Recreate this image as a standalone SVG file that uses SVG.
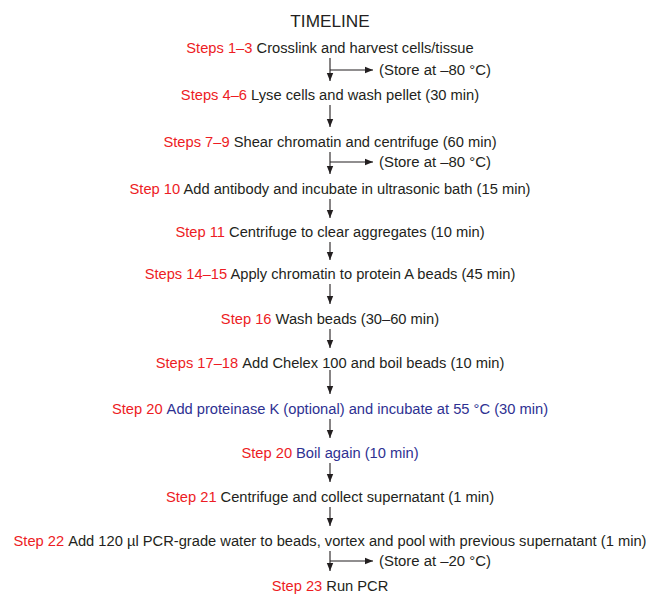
<svg xmlns="http://www.w3.org/2000/svg" width="646" height="594" viewBox="0 0 646 594">
<style>
text{font-family:"Liberation Sans",Arial,sans-serif;font-size:14.7px;fill:#231f20;text-anchor:middle}
.t{font-size:17.2px}
.r{fill:#ed1c24}
.b{fill:#2e3192}
.s{text-anchor:start;font-size:14.9px}
line{stroke:#231f20;stroke-width:1.1}
</style>
<defs>
<marker id="ah" viewBox="0 0 8 8" refX="8" refY="4" markerWidth="8" markerHeight="8" markerUnits="userSpaceOnUse" orient="auto">
<path d="M0,0.8 L8,4 L0,7.2 Z" fill="#231f20"/>
</marker>
</defs>
<rect width="646" height="594" fill="#fff"/>
<text id="title" class="t" x="330" y="27">TIMELINE</text>
<g id="s1"><text x="330" y="53"><tspan class="r">Steps 1–3</tspan> Crosslink and harvest cells/tissue</text></g>
<g id="s4"><text x="330" y="100"><tspan class="r">Steps 4–6</tspan> Lyse cells and wash pellet (30 min)</text></g>
<g id="s7"><text x="330" y="147"><tspan class="r">Steps 7–9</tspan> Shear chromatin and centrifuge (60 min)</text></g>
<g id="s10"><text x="330" y="194"><tspan class="r">Step 10</tspan> Add antibody and incubate in ultrasonic bath (15 min)</text></g>
<g id="s11"><text x="330" y="237"><tspan class="r">Step 11</tspan> Centrifuge to clear aggregates (10 min)</text></g>
<g id="s14"><text x="330" y="279"><tspan class="r">Steps 14–15</tspan> Apply chromatin to protein A beads (45 min)</text></g>
<g id="s16"><text x="330" y="324"><tspan class="r">Step 16</tspan> Wash beads (30–60 min)</text></g>
<g id="s17"><text x="330" y="368"><tspan class="r">Steps 17–18</tspan><tspan dx="4">Add Chelex 100 and boil beads (10 min)</tspan></text></g>
<g id="s20a"><text x="330" y="414"><tspan class="r">Step 20</tspan><tspan class="b" dx="4">Add proteinase K (optional) and incubate at 55 °C (30 min)</tspan></text></g>
<g id="s20b"><text x="330" y="458"><tspan class="r">Step 20</tspan><tspan class="b" dx="4">Boil again (10 min)</tspan></text></g>
<g id="s21"><text x="330" y="502"><tspan class="r">Step 21</tspan><tspan dx="4">Centrifuge and collect supernatant (1 min)</tspan></text></g>
<g id="s22"><text x="330" y="546"><tspan class="r">Step 22</tspan><tspan dx="4">Add 120 µl PCR-grade water to beads, vortex and pool with previous supernatant (1 min)</tspan></text></g>
<g id="s23"><text x="330" y="591"><tspan class="r">Step 23</tspan><tspan dx="4">Run PCR</tspan></text></g>
<g id="store1"><text class="s" x="379" y="75">(Store at –80 °C)</text></g>
<g id="store2"><text class="s" x="379" y="167">(Store at –80 °C)</text></g>
<g id="store3"><text class="s" x="379" y="566">(Store at –20 °C)</text></g>
<g id="connectors" marker-end="url(#ah)">
<line x1="330" y1="58" x2="330" y2="81"/>
<line x1="330" y1="70" x2="373" y2="70"/>
<line x1="330" y1="105" x2="330" y2="127"/>
<line x1="330" y1="152" x2="330" y2="174"/>
<line x1="330" y1="162" x2="373" y2="162"/>
<line x1="330" y1="199" x2="330" y2="218"/>
<line x1="330" y1="242" x2="330" y2="260"/>
<line x1="330" y1="284" x2="330" y2="304"/>
<line x1="330" y1="329" x2="330" y2="348"/>
<line x1="330" y1="370" x2="330" y2="394"/>
<line x1="330" y1="419" x2="330" y2="438"/>
<line x1="330" y1="463" x2="330" y2="482"/>
<line x1="330" y1="507" x2="330" y2="526"/>
<line x1="330" y1="551" x2="330" y2="571"/>
<line x1="330" y1="561" x2="373" y2="561"/>
</g>
</svg>
